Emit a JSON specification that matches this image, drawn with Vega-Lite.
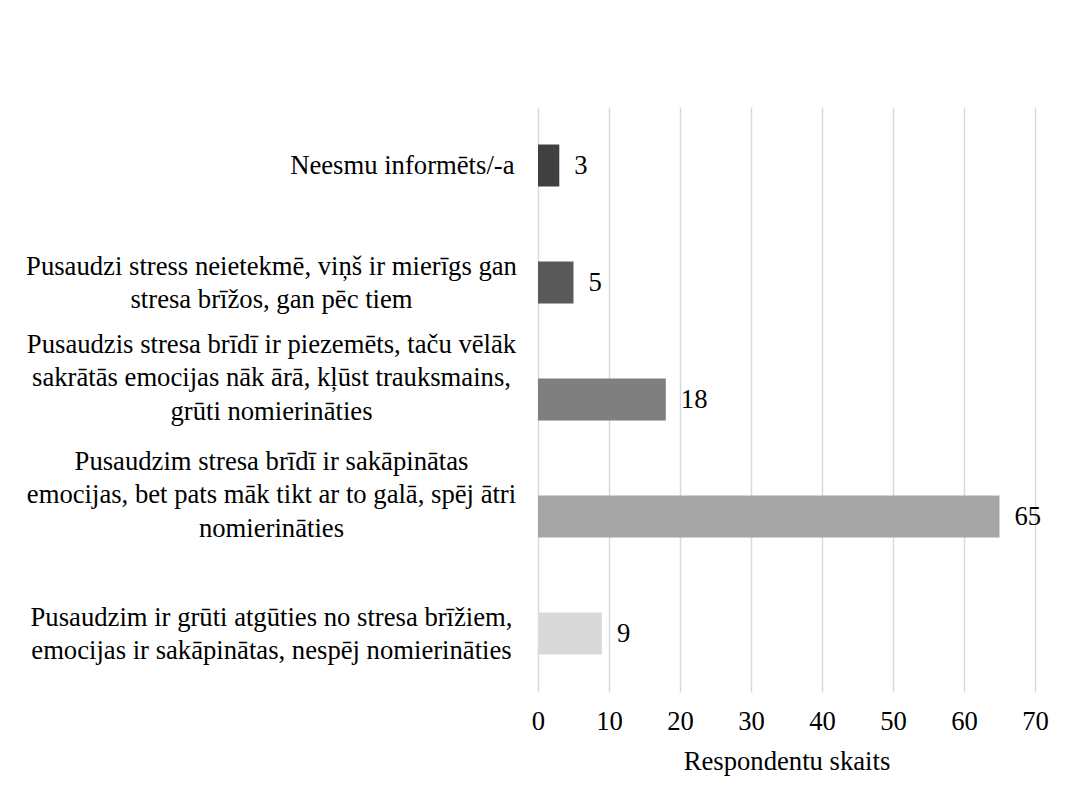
{
  "$schema": "https://vega.github.io/schema/vega-lite/v6.json",
  "width": 497,
  "height": 585,
  "autosize": {"type": "none"},
  "padding": {"left": 538, "top": 107, "right": 30, "bottom": 110},
  "background": "white",
  "config": {
    "font": "Liberation Serif, Times New Roman, serif",
    "view": {"stroke": null},
    "text": {"font": "Liberation Serif, Times New Roman, serif"},
    "axis": {"labelFont": "Liberation Serif, Times New Roman, serif", "titleFont": "Liberation Serif, Times New Roman, serif", "labelColor": "#000000", "titleColor": "#000000", "titleFontWeight": "normal"}
  },
  "data": {
    "values": [
      {"kategorija": "Neesmu informēts/-a", "skaits": 3},
      {"kategorija": "Pusaudzi stress neietekmē, viņš ir mierīgs gan|stresa brīžos, gan pēc tiem", "skaits": 5},
      {"kategorija": "Pusaudzis stresa brīdī ir piezemēts, taču vēlāk|sakrātās emocijas nāk ārā, kļūst trauksmains,|grūti nomierināties", "skaits": 18},
      {"kategorija": "Pusaudzim stresa brīdī ir sakāpinātas|emocijas, bet pats māk tikt ar to galā, spēj ātri|nomierināties", "skaits": 65},
      {"kategorija": "Pusaudzim ir grūti atgūties no stresa brīžiem,|emocijas ir sakāpinātas, nespēj nomierināties", "skaits": 9}
    ]
  },
  "encoding": {
    "y": {
      "field": "kategorija",
      "type": "nominal",
      "sort": null,
      "scale": {"paddingInner": 0.64, "paddingOuter": 0.32},
      "axis": {
        "title": null,
        "domain": false,
        "ticks": false,
        "grid": false,
        "labelFontSize": 26.67,
        "labelLimit": 700,
        "labelLineHeight": 33.5,
        "labelBaseline": "middle",
        "labelExpr": "split(datum.label, '|')",
        "labelAlign": {"condition": {"test": "datum.value == 'Neesmu informēts/-a'", "value": "right"}, "value": "center"},
        "labelPadding": {"condition": {"test": "datum.value == 'Neesmu informēts/-a'", "value": 24}, "value": 267},
        "labelOffset": {"condition": [
          {"test": "length(split(datum.value, '|')) == 3", "value": -55},
          {"test": "length(split(datum.value, '|')) == 2", "value": -16}
        ], "value": 0}
      }
    },
    "x": {
      "field": "skaits",
      "type": "quantitative",
      "scale": {"domain": [0, 70], "nice": false},
      "axis": {
        "title": "Respondentu skaits",
        "values": [0, 10, 20, 30, 40, 50, 60, 70],
        "domain": false,
        "ticks": false,
        "grid": true,
        "gridColor": "#d9d9d9",
        "gridWidth": 1.5,
        "labelFlush": false,
        "labelFontSize": 26.67,
        "labelPadding": 16,
        "titleFontSize": 26.67,
        "titlePadding": 14
      }
    }
  },
  "layer": [
    {
      "mark": {"type": "bar"},
      "encoding": {
        "color": {
          "field": "kategorija",
          "type": "nominal",
          "legend": null,
          "scale": {
            "domain": [
              "Neesmu informēts/-a",
              "Pusaudzi stress neietekmē, viņš ir mierīgs gan|stresa brīžos, gan pēc tiem",
              "Pusaudzis stresa brīdī ir piezemēts, taču vēlāk|sakrātās emocijas nāk ārā, kļūst trauksmains,|grūti nomierināties",
              "Pusaudzim stresa brīdī ir sakāpinātas|emocijas, bet pats māk tikt ar to galā, spēj ātri|nomierināties",
              "Pusaudzim ir grūti atgūties no stresa brīžiem,|emocijas ir sakāpinātas, nespēj nomierināties"
            ],
            "range": ["#404040", "#595959", "#7f7f7f", "#a5a5a5", "#d9d9d9"]
          }
        }
      }
    },
    {
      "mark": {"type": "text", "align": "left", "baseline": "middle", "dx": 15, "fontSize": 26.67, "font": "Liberation Serif, Times New Roman, serif", "color": "#000000"},
      "encoding": {"text": {"field": "skaits", "type": "quantitative"}}
    }
  ]
}
